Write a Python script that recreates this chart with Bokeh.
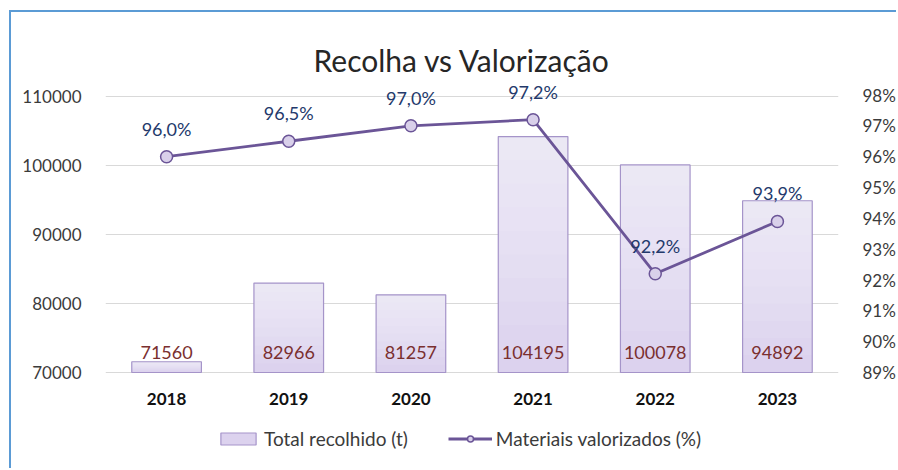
from bokeh.plotting import figure
from bokeh.models import (ColumnDataSource, Range1d, LinearAxis, Legend, LegendItem,
                          PrintfTickFormatter, FixedTicker, LabelSet, Title)
from bokeh.core.properties import value
from bokeh.embed import file_html
from bokeh.resources import INLINE

years = ["2018", "2019", "2020", "2021", "2022", "2023"]
total = [71560, 82966, 81257, 104195, 100078, 94892]
pct = [96.0, 96.5, 97.0, 97.2, 92.2, 93.9]
left_ticks = [70000, 80000, 90000, 100000, 110000]
right_ticks = [89, 90, 91, 92, 93, 94, 95, 96, 97, 98]
title_text = "Recolha vs Valorização"
bar_name = "Total recolhido (t)"
line_name = "Materiais valorizados (%)"

FONT = "Lato"
PURPLE = "#6b5597"
BAR_BOTTOM = "#dcd2ee"
BAR_LINE = "#a594c9"
PCT_COLOR = "#23396b"
VAL_COLOR = "#7a2f2f"
TICK_COLOR = "#3b3b3b"

# layout geometry (canvas pixels)
W, H = 887, 458
FRAME_TOP = 70
AXIS_SPAN_PX = 290
BELOW_PX = H - FRAME_TOP - AXIS_SPAN_PX

l_lo, l_hi = left_ticks[0], left_ticks[-1]
l_per_px = (l_hi - l_lo) / 276.0
r_lo, r_hi = right_ticks[0], right_ticks[-1]
r_per_px = (r_hi - r_lo) / 277.5

y_left = Range1d(l_lo - BELOW_PX * l_per_px, l_lo + AXIS_SPAN_PX * l_per_px)
y_right = Range1d(r_lo - BELOW_PX * r_per_px, r_lo + AXIS_SPAN_PX * r_per_px)

src = ColumnDataSource(dict(
    year=years,
    total=total,
    pct=pct,
    base=[l_lo] * len(years),
    total_label=[str(v) for v in total],
    pct_label=[f"{v:.1f}".replace(".", ",") + "%" for v in pct],
))

p = figure(x_range=years, y_range=y_left,
           width=W, height=H, output_backend="svg", toolbar_location=None,
           min_border_left=94, min_border_right=58, min_border_top=FRAME_TOP, min_border_bottom=0)
p.margin = (12, 0, 0, 11)
p.styles = {"box-shadow": "-2px -2px 0px 0px #5b9bd5"}
p.x_range.range_padding = 0
p.extra_y_ranges = {"pct": y_right}
p.outline_line_color = None
p.background_fill_color = "white"
p.border_fill_color = "white"

# small spacer title next to the frame, real title stacked above it
p.title.text = " "
p.title.text_font_size = "6px"
p.title.standoff = 0
p.add_layout(Title(text=title_text, align="left", offset=208, text_font=FONT,
                   text_font_size="30px", text_font_style="normal",
                   text_color="#262626"), "above")

# bars with a soft vertical gradient (white layers derived from each bar's own height)
BW = 0.57
bars = p.vbar(x="year", top="total", bottom="base", width=BW, source=src,
              fill_color=BAR_BOTTOM, line_color=None)
N = 10
for k in range(1, N + 1):
    bottoms = [l_lo + (v - l_lo) * k / N for v in total]
    p.vbar(x=years, top=total, bottom=bottoms, width=BW, fill_color="white",
           fill_alpha=0.083, line_color=None)
outline = p.vbar(x="year", top="total", bottom="base", width=BW, source=src,
                 fill_color=None, line_color=BAR_LINE, line_width=1.2)

line = p.line(x="year", y="pct", y_range_name="pct", source=src,
              line_color=PURPLE, line_width=2.8)
pts = p.scatter(x="year", y="pct", y_range_name="pct", source=src, size=12,
                fill_color="#d9d0ea", line_color=PURPLE, line_width=1.5)

p.add_layout(LabelSet(x="year", y="base", text="total_label", source=src,
                      y_offset=20, text_align="center", text_baseline="middle",
                      text_font=value(FONT), text_font_size=value("18px"),
                      text_color=VAL_COLOR))
p.add_layout(LabelSet(x="year", y="pct", y_range_name="pct", text="pct_label", source=src,
                      y_offset=28, text_align="center", text_baseline="middle",
                      text_font=value(FONT), text_font_size=value("18px"),
                      text_color=PCT_COLOR))
p.add_layout(LabelSet(x="year", y="base", text="year", source=src,
                      y_offset=-26, text_align="center", text_baseline="middle",
                      text_font=value(FONT), text_font_size=value("17px"),
                      text_font_style="bold", text_color="#111111"))

p.xaxis.visible = False

ya = p.yaxis[0]
ya.ticker = FixedTicker(ticks=left_ticks)
ya.formatter = PrintfTickFormatter(format="%d")
ya.axis_line_color = None
ya.major_tick_line_color = None
ya.minor_tick_line_color = None
ya.major_label_text_font = FONT
ya.major_label_text_font_size = "17px"
ya.major_label_text_color = TICK_COLOR
ya.major_label_standoff = 18

ra = LinearAxis(y_range_name="pct", ticker=FixedTicker(ticks=right_ticks),
                formatter=PrintfTickFormatter(format="%d%%"))
ra.axis_line_color = None
ra.major_tick_line_color = None
ra.minor_tick_line_color = None
ra.major_label_text_font = FONT
ra.major_label_text_font_size = "17px"
ra.major_label_text_color = TICK_COLOR
ra.major_label_standoff = 18
p.add_layout(ra, "right")

p.xgrid.grid_line_color = None
p.ygrid.ticker = FixedTicker(ticks=left_ticks)
p.ygrid.grid_line_color = "#d9d9d9"
p.ygrid.grid_line_width = 1

legend = Legend(items=[LegendItem(label=bar_name, renderers=[bars, outline]),
                       LegendItem(label=line_name, renderers=[line, pts])],
                orientation="horizontal", location=(111, 20),
                label_text_font=FONT, label_text_font_size="19px", label_text_color=TICK_COLOR,
                glyph_width=44, glyph_height=15, spacing=40, label_standoff=4,
                padding=6, margin=0, border_line_color=None, background_fill_alpha=0)
p.add_layout(legend)

open("out.html", "w").write(file_html(p, INLINE))
